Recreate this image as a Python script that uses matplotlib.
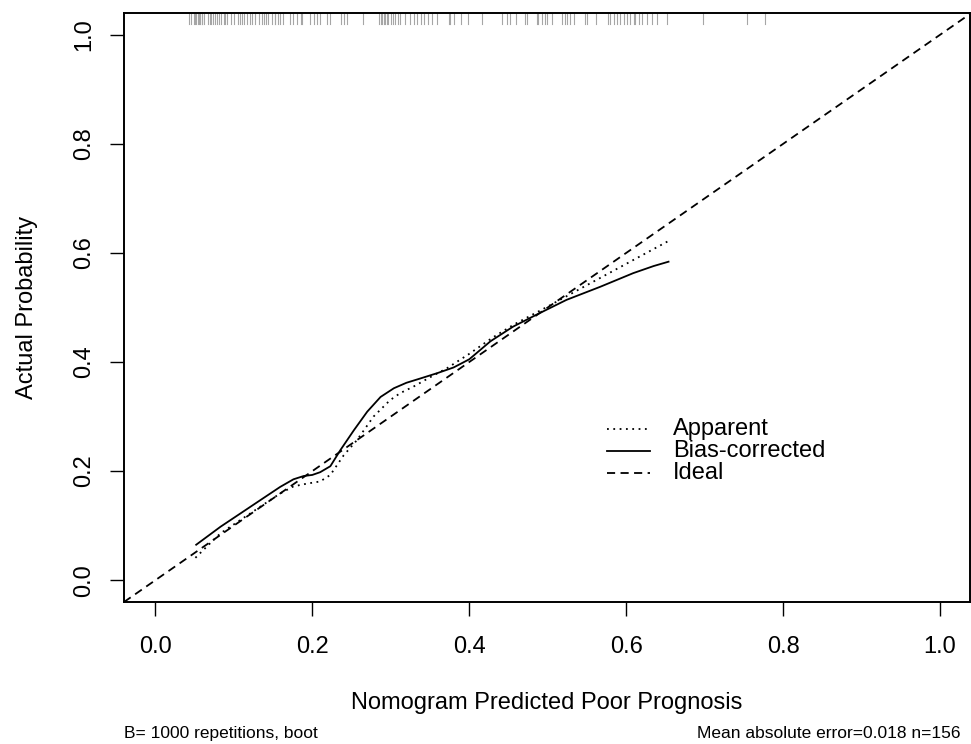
import numpy as np
import matplotlib.pyplot as plt

plt.rcParams['font.family'] = ['Liberation Sans', 'DejaVu Sans']

# calibration curves
app_x = [0.051, 0.070, 0.083, 0.108, 0.134, 0.159, 0.176, 0.193, 0.210, 0.223,
         0.240, 0.257, 0.278, 0.299, 0.312, 0.329, 0.350, 0.372, 0.400, 0.430,
         0.456, 0.499, 0.541, 0.600, 0.654]
app_y = [0.041, 0.068, 0.086, 0.110, 0.135, 0.159, 0.172, 0.177, 0.181, 0.193,
         0.229, 0.257, 0.300, 0.330, 0.343, 0.355, 0.372, 0.389, 0.415, 0.445,
         0.468, 0.501, 0.534, 0.580, 0.622]

bc_x = [0.052, 0.083, 0.108, 0.134, 0.159, 0.176, 0.189, 0.200, 0.210, 0.223,
        0.236, 0.253, 0.270, 0.287, 0.304, 0.320, 0.338, 0.360, 0.380, 0.400,
        0.427, 0.456, 0.486, 0.524, 0.567, 0.609, 0.635, 0.654]
bc_y = [0.065, 0.098, 0.122, 0.147, 0.171, 0.185, 0.191, 0.193, 0.198, 0.209,
        0.239, 0.275, 0.309, 0.336, 0.352, 0.362, 0.370, 0.380, 0.390, 0.405,
        0.438, 0.465, 0.487, 0.514, 0.538, 0.563, 0.576, 0.584]

# predicted values shown as the rug along the top
rug_x = [0.043, 0.045, 0.049, 0.051, 0.052, 0.054, 0.056, 0.057, 0.059, 0.060,
         0.062, 0.067, 0.069, 0.071, 0.073, 0.076, 0.079, 0.081, 0.083, 0.087,
         0.089, 0.091, 0.096, 0.100, 0.105, 0.108, 0.110, 0.113, 0.117, 0.121,
         0.123, 0.127, 0.132, 0.136, 0.138, 0.141, 0.144, 0.149, 0.152, 0.153,
         0.156, 0.159, 0.163, 0.172, 0.176, 0.180, 0.185, 0.187, 0.197, 0.202,
         0.206, 0.210, 0.219, 0.223, 0.236, 0.240, 0.244, 0.265, 0.285, 0.287,
         0.289, 0.291, 0.293, 0.295, 0.297, 0.300, 0.303, 0.306, 0.309, 0.312,
         0.318, 0.325, 0.329, 0.333, 0.338, 0.342, 0.348, 0.352, 0.359, 0.374,
         0.376, 0.380, 0.389, 0.399, 0.416, 0.442, 0.448, 0.452, 0.459, 0.471,
         0.473, 0.486, 0.488, 0.493, 0.497, 0.499, 0.505, 0.518, 0.522, 0.524,
         0.529, 0.533, 0.548, 0.550, 0.561, 0.577, 0.580, 0.584, 0.588, 0.592,
         0.597, 0.601, 0.605, 0.610, 0.611, 0.616, 0.620, 0.626, 0.633, 0.639,
         0.652, 0.698, 0.754, 0.777]

ticks = [0.0, 0.2, 0.4, 0.6, 0.8, 1.0]
labels = ['Apparent', 'Bias-corrected', 'Ideal']

fs = 17
fig = plt.figure(figsize=(9.71, 7.44), dpi=100)
ax = fig.add_axes([124 / 971, 1 - 602 / 744, (969.5 - 124) / 971, (602 - 13) / 744])
ax.set_xlim(-0.04, 1.0376)
ax.set_ylim(-0.04, 1.04)

lw = 1.3
ax.plot(app_x, app_y, color='black', lw=lw, linestyle=(0, (1, 2.5)))
ax.plot(bc_x, bc_y, color='black', lw=lw)
ax.axline((0, 0), (1, 1), color='black', lw=lw, linestyle=(0, (4.5, 3)))

# rug of predictions
for rx in rug_x:
    ax.plot([rx, rx], [0.982, 1.0], color='0.65', lw=0.8,
            transform=ax.get_xaxis_transform(), clip_on=False)

for s in ax.spines.values():
    s.set_linewidth(1.4)

ax.set_xticks(ticks)
ax.set_xticklabels(['%.1f' % t for t in ticks])
ax.set_yticks(ticks)
ax.set_yticklabels(['%.1f' % t for t in ticks], rotation=90, va='center')
ax.tick_params(axis='both', direction='out', length=10, width=1.0, labelsize=fs)
ax.tick_params(axis='x', pad=14.5)
ax.tick_params(axis='y', pad=11)

ax.set_xlabel('Nomogram Predicted Poor Prognosis', fontsize=fs)
ax.xaxis.set_label_coords(0.5, -0.153)
ax.set_ylabel('Actual Probability', fontsize=fs)
ax.yaxis.set_label_coords(-0.1015, 0.5)

# legend drawn by hand, R style
styles = [(0, (1, 2.5)), '-', (0, (4.5, 3))]
leg_y = [(602 - 429) / 589, (602 - 451) / 589, (602 - 473) / 589]
x0, x1, xt = (607 - 124) / 845.5, (650 - 124) / 845.5, (673 - 124) / 845.5
for lab, st, yy in zip(labels, styles, leg_y):
    ax.plot([x0, x1], [yy, yy], color='black', lw=lw, linestyle=st,
            transform=ax.transAxes)
    ax.text(xt, yy, lab, fontsize=fs, va='center', ha='left',
            transform=ax.transAxes)

fig.text(124 / 971, 1 - 738 / 744, 'B= 1000 repetitions, boot',
         fontsize=12.5, ha='left', va='baseline')
fig.text(960 / 971, 1 - 738 / 744, 'Mean absolute error=0.018 n=156',
         fontsize=12.5, ha='right', va='baseline')

fig.savefig('out.png', dpi=100)
